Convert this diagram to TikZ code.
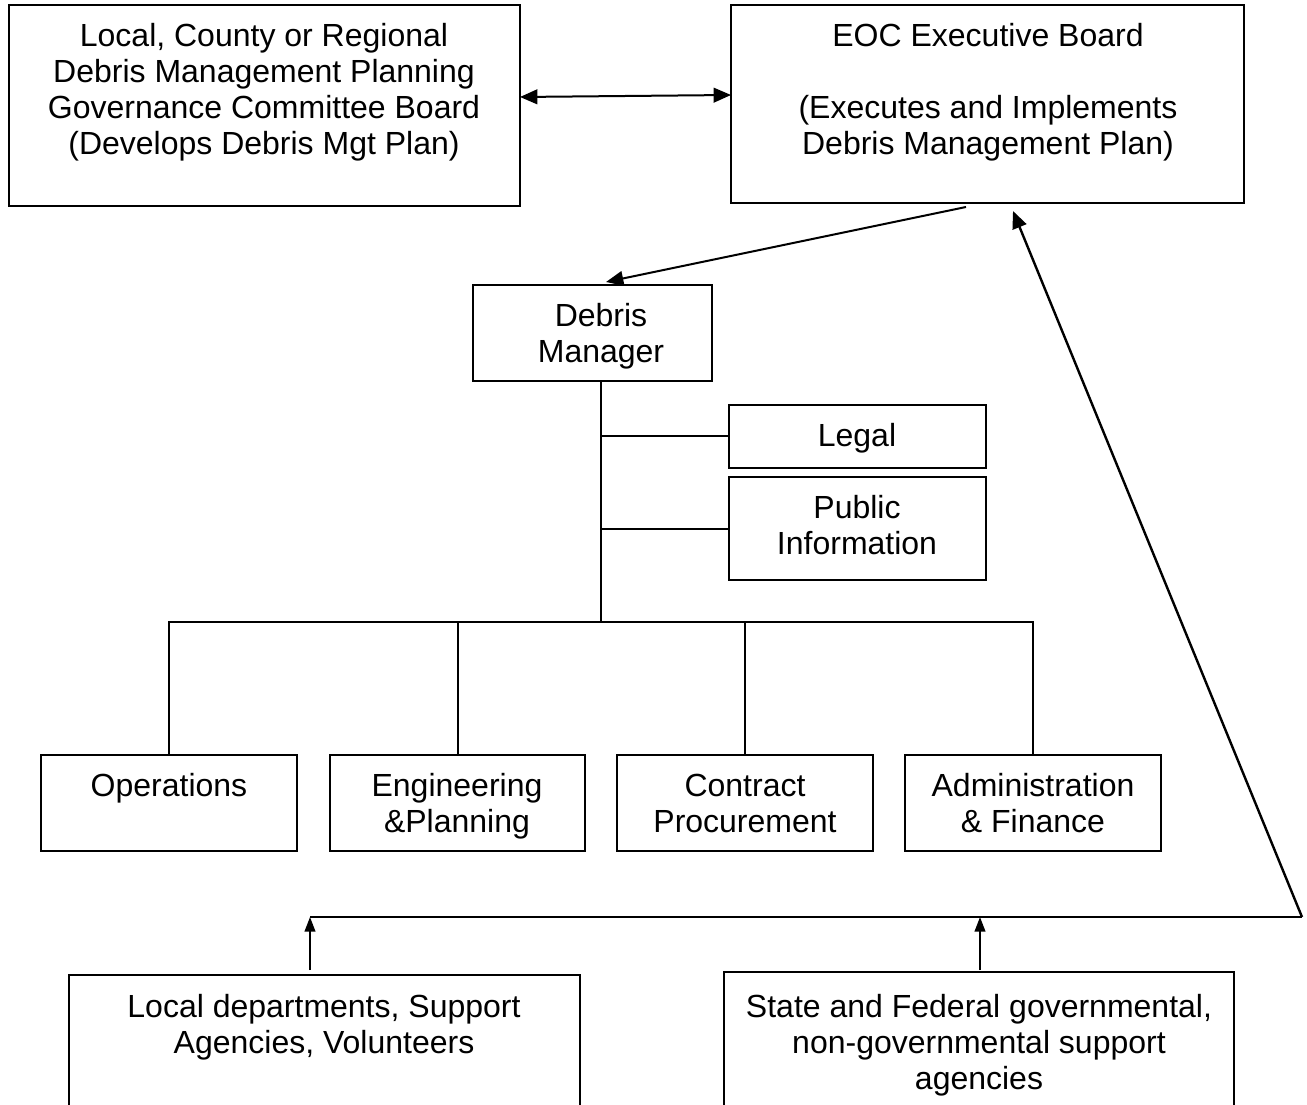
\documentclass[tikz,border=0pt]{standalone}
\usepackage{fontspec}
\setmainfont{Liberation Sans}
\usetikzlibrary{arrows.meta,calc}
\newcommand\obox[5]{\node[box, minimum width={(#4-#2)*0.75pt}, minimum height={(#5-#3)*0.75pt}] (#1) at (#2,#3) {};}
\begin{document}
\begin{tikzpicture}[x=0.75pt,y=-0.75pt,
  box/.style={draw, line width=1.5pt, inner sep=0pt, outer sep=0pt, anchor=north west},
  txt/.style={anchor=north, inner sep=0pt, align=center, font={\fontsize{24}{27}\selectfont}},
  conn/.style={line width=1.5pt},
  bigtip/.style={-{Triangle[length=13pt,width=11pt]}},
  smalltip/.style={-{Triangle[length=11pt,width=8pt]}}]
\useasboundingbox (0,0) rectangle (1307,1105);
% boxes
\obox{gov}{9}{5}{520}{206}
\obox{eoc}{731}{5}{1244}{203}
\obox{dm}{473}{285}{712}{381}
\obox{legal}{729}{405}{986}{468}
\obox{pub}{729}{477}{986}{580}
\obox{ops}{41}{755}{297}{851}
\obox{eng}{330}{755}{585}{851}
\obox{con}{617}{755}{873}{851}
\obox{adm}{905}{755}{1161}{851}
\obox{loc}{69}{975}{580}{1125}
\obox{st}{724}{972}{1234}{1125}
% texts
\node[txt] (gov-t) at (264,21) {\strut Local, County or Regional\\Debris Management Planning\\Governance Committee Board\\(Develops Debris Mgt Plan)};
\node[txt] (eoc-t) at (988,21) {\strut EOC Executive Board\\[27pt](Executes and Implements\\Debris Management Plan)};
\node[txt] (dm-t) at (601,301) {\strut Debris\\Manager};
\node[txt] (legal-t) at (857,421) {\strut Legal};
\node[txt] (pub-t) at (857,493) {\strut Public\\Information};
\node[txt] (ops-t) at (169,771) {\strut Operations};
\node[txt] (eng-t) at (457,771) {\strut Engineering\\\&Planning};
\node[txt] (con-t) at (745,771) {\strut Contract\\Procurement};
\node[txt] (adm-t) at (1033,771) {\strut Administration\\\& Finance};
\node[txt] (loc-t) at (324,992) {\strut Local departments, Support\\Agencies, Volunteers};
\node[txt] (st-t) at (979,992) {\strut State and Federal governmental,\\non-governmental support\\agencies};
% connectors top
\draw[conn, {Triangle[length=13pt,width=11pt]}-{Triangle[length=13pt,width=11pt]}] (gov.east |- 0,97) -- (eoc.west |- 0,95);
\coordinate (eocout) at (966,207);
\coordinate (dmin) at (606,282);
\draw[conn, bigtip] (eocout) -- (dmin);
% org tree
\coordinate (trunk) at (601,381);
\coordinate (bus) at (601,622);
\draw[conn] (trunk) -- (bus);
\draw[conn] (legal.west) -- (legal.west -| trunk);
\draw[conn] (pub.west) -- (pub.west -| trunk);
\draw[conn] (ops.north) -- (ops.north |- bus) -- (adm.north |- bus) -- (adm.north);
\draw[conn] (eng.north) -- (eng.north |- bus);
\draw[conn] (con.north) -- (con.north |- bus);
% support feedback
\coordinate (corner) at (1302,917);
\coordinate (eocin) at (1013,211);
\coordinate (rail) at (310,917);
\draw[conn] (rail) -- (corner);
\draw[conn, line width=1.8pt, bigtip] (corner) -- (eocin);
\coordinate (locup) at (310,970);
\coordinate (stup) at (980,970);
\draw[conn, smalltip] (locup) -- (locup |- rail);
\draw[conn, smalltip] (stup) -- (stup |- rail);
\end{tikzpicture}
\end{document}
